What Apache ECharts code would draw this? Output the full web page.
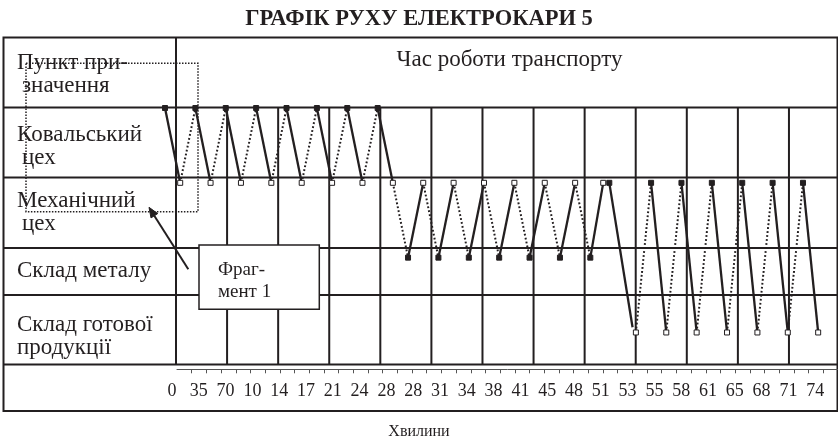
<!DOCTYPE html>
<html>
<head>
<meta charset="utf-8">
<script src="https://cdn.jsdelivr.net/npm/echarts@6/dist/echarts.min.js"></script>
<style>
  html, body { margin: 0; padding: 0; background: #ffffff; }
  #chart { width: 838px; height: 448px; }
</style>
</head>
<body>
<div id="chart"></div>
<script>
// Row names of the route table, one or two text lines each
const rowNames = [
  ['Пункт при-', 'значення'],
  ['Ковальський', 'цех'],
  ['Механічний', 'цех'],
  ['Склад металу'],
  ['Склад готової', 'продукції']
];

// Time labels printed under the table, minutes
const timeLabels = ['0', '35', '70', '10', '14', '17', '21', '24', '28', '28', '31', '34', '38',
  '41', '45', '48', '51', '53', '55', '58', '61', '65', '68', '71', '74'];

// Route points of electric car 5: position on the trip scale and stop level
// (4 – Ковальський цех, 3 – Механічний цех, 2 – Склад металу, 1 – Склад готової продукції)
const stepPos = [0, 1, 2, 3, 4, 5, 6, 7, 8, 9, 10, 11, 12, 13, 14, 15,
  16, 17, 18, 19, 20, 21, 22, 23, 24, 25, 26, 27, 28,
  28.85, 29.25, 30.78,
  31, 32, 33, 34, 35, 36, 37, 38, 39, 40, 41, 42, 43];
const stepLevel = [4, 3, 4, 3, 4, 3, 4, 3, 4, 3, 4, 3, 4, 3, 4, 3,
  2, 3, 2, 3, 2, 3, 2, 3, 2, 3, 2, 3, 2,
  3, 3, 1.07,
  1, 3, 1, 3, 1, 3, 1, 3, 1, 3, 1, 3, 1];
// Point marker: F – loading (filled square), O – unloading (open square), '' – none
const stepMark = ['F', 'O', 'F', 'O', 'F', 'O', 'F', 'O', 'F', 'O', 'F', 'O', 'F', 'O', 'F', 'O',
  'F', 'O', 'F', 'O', 'F', 'O', 'F', 'O', 'F', 'O', 'F', 'O', 'F',
  'O', 'F', '',
  'O', 'F', 'O', 'F', 'O', 'F', 'O', 'F', 'O', 'F', 'O', 'F', 'O'];
// Leg from each point to the next: L – loaded run (solid), E – empty run (dotted), '' – no leg
const legType = ['L', 'E', 'L', 'E', 'L', 'E', 'L', 'E', 'L', 'E', 'L', 'E', 'L', 'E',
  'L', 'E', 'L', 'E', 'L', 'E', 'L', 'E', 'L', 'E', 'L', 'E', 'L', 'E',
  'L', '', 'L', '',
  'E', 'L', 'E', 'L', 'E', 'L', 'E', 'L', 'E', 'L', 'E', 'L'];

const INK = '#231f20';
const SERIF = '"Liberation Serif", "Times New Roman", "DejaVu Serif", serif';

function legs(kind) {
  const out = [];
  legType.forEach((t, i) => {
    if (t === kind) {
      out.push({ coords: [[stepPos[i], stepLevel[i]], [stepPos[i + 1], stepLevel[i + 1]]] });
    }
  });
  return out;
}
function marks(kind) {
  const out = [];
  stepMark.forEach((m, i) => { if (m === kind) out.push([stepPos[i], stepLevel[i]]); });
  return out;
}

// ---- table frame ----
const tblLeft = 3.5, tblRight = 837.5, tblTop = 37.5, tblBottom = 411;
const rowLines = [107.5, 177.5, 248, 295, 364.5];
const colDivider = 176, colStep = 51.08, colCount = 12;

const graphics = [];
const hLine = (x1, y1, x2, y2, w) => ({
  type: 'line', z: 0, silent: true,
  shape: { x1, y1, x2, y2 },
  style: { stroke: INK, lineWidth: w || 2 }
});
graphics.push({
  type: 'rect', z: 0, silent: true,
  shape: { x: tblLeft, y: tblTop, width: tblRight - tblLeft, height: tblBottom - tblTop },
  style: { fill: 'none', stroke: INK, lineWidth: 2 }
});
rowLines.forEach(y => graphics.push(hLine(tblLeft, y, 838, y)));
graphics.push(hLine(colDivider, tblTop, colDivider, rowLines[4]));
for (let k = 1; k <= colCount; k++) {
  const x = colDivider + k * colStep;
  graphics.push(hLine(x, rowLines[0], x, rowLines[4]));
}

// ---- row names ----
const rowBaselines = [[70, 93], [142, 165], [208, 231], [278], [332, 355]];
const rowX = [[17, 22], [17, 22], [17, 22], [17], [17, 17]];
rowNames.forEach((lines, r) => {
  lines.forEach((txt, j) => {
    graphics.push({
      type: 'text', z: 3, silent: true,
      style: {
        text: txt, x: rowX[r][j], y: rowBaselines[r][j] - 7.5,
        font: '23px ' + SERIF, fill: INK, align: 'left', verticalAlign: 'middle'
      }
    });
  });
});

// header of the time part
graphics.push({
  type: 'text', z: 3, silent: true,
  style: { text: 'Час роботи транспорту', x: 509.5, y: 60, font: '23px ' + SERIF,
    fill: INK, align: 'center', verticalAlign: 'middle' }
});
// axis caption
graphics.push({
  type: 'text', z: 3, silent: true,
  style: { text: 'Хвилини', x: 419, y: 432, font: '16px ' + SERIF,
    fill: INK, align: 'center', verticalAlign: 'middle' }
});

// dotted frame of the fragment
graphics.push({
  type: 'polyline', z: 4, silent: true,
  shape: { points: [[26, 63.3], [198, 63.3], [198, 211.7], [26, 211.7], [26, 63.3]] },
  style: { fill: 'none', stroke: INK, lineWidth: 1.5, lineDash: [1.5, 1.5] }
});
// pointer arrow
graphics.push({
  type: 'line', z: 10, silent: true,
  shape: { x1: 188.3, y1: 269.3, x2: 154.3, y2: 215.7 },
  style: { stroke: INK, lineWidth: 2 }
});
graphics.push({
  type: 'polygon', z: 10, silent: true,
  shape: { points: [[149, 207.3], [157.7, 213.6], [151, 217.9]] },
  style: { fill: INK, stroke: INK, lineWidth: 1 }
});
// fragment note box
graphics.push({
  type: 'rect', z: 10, silent: true,
  shape: { x: 199, y: 245, width: 120.3, height: 64.3 },
  style: { fill: '#ffffff', stroke: INK, lineWidth: 1.5 }
});
graphics.push({
  type: 'text', z: 11, silent: true,
  style: { text: 'Фраг-', x: 218, y: 270, font: '19px ' + SERIF, fill: INK,
    align: 'left', verticalAlign: 'middle' }
});
graphics.push({
  type: 'text', z: 11, silent: true,
  style: { text: 'мент 1', x: 218, y: 292, font: '19px ' + SERIF, fill: INK,
    align: 'left', verticalAlign: 'middle' }
});

const tickCats = Array.from({ length: 45 }, () => '');

const option = {
  animation: false,
  backgroundColor: '#ffffff',
  title: {
    text: 'ГРАФІК РУХУ ЕЛЕКТРОКАРИ 5',
    left: 'center', top: 3,
    textStyle: { fontFamily: SERIF, fontWeight: 'bold', fontSize: 22.5, color: INK }
  },
  grid: [
    { left: 165, top: 108, width: 653.17, height: 299.3 },   // route plot
    { left: 177, top: 300, width: 663.75, height: 69.3 },   // tick ruler
    { left: 158.6, top: 300, width: 670, height: 70 }       // time labels
  ],
  xAxis: [
    { gridIndex: 0, type: 'value', min: 0, max: 43, show: false },
    {
      gridIndex: 1, type: 'category', data: tickCats, boundaryGap: true,
      axisLine: { show: true, lineStyle: { color: '#555555', width: 1 } },
      axisTick: { show: true, length: 4, lineStyle: { color: '#555555', width: 1 },
        interval: (i) => i > 0 },
      axisLabel: { show: false }, splitLine: { show: false }
    },
    {
      gridIndex: 2, type: 'category', data: timeLabels, boundaryGap: true,
      axisLine: { show: false }, axisTick: { show: false }, splitLine: { show: false },
      axisLabel: { interval: 0, margin: 12, fontFamily: SERIF, fontSize: 18, color: INK }
    }
  ],
  yAxis: [
    { gridIndex: 0, type: 'value', min: 0, max: 4, show: false },
    { gridIndex: 1, type: 'value', show: false },
    { gridIndex: 2, type: 'value', show: false }
  ],
  graphic: graphics,
  series: [
    {
      name: 'Loaded run', type: 'lines', coordinateSystem: 'cartesian2d',
      xAxisIndex: 0, yAxisIndex: 0, z: 5, silent: true,
      lineStyle: { color: INK, width: 2.3, type: 'solid', opacity: 1 },
      data: legs('L')
    },
    {
      name: 'Empty run', type: 'lines', coordinateSystem: 'cartesian2d',
      xAxisIndex: 0, yAxisIndex: 0, z: 5, silent: true,
      lineStyle: { color: INK, width: 2, type: [1.8, 2.2], opacity: 1 },
      data: legs('E')
    },
    {
      name: 'Loading', type: 'scatter', xAxisIndex: 0, yAxisIndex: 0, z: 6, silent: true,
      symbol: 'rect', symbolSize: 5,
      itemStyle: { color: INK, borderColor: INK, borderWidth: 1, opacity: 1 },
      data: marks('F')
    },
    {
      name: 'Unloading', type: 'scatter', xAxisIndex: 0, yAxisIndex: 0, z: 6, silent: true,
      symbol: 'rect', symbolSize: 5,
      itemStyle: { color: '#ffffff', borderColor: INK, borderWidth: 1, opacity: 1 },
      data: marks('O')
    }
  ]
};

const chart = echarts.init(document.getElementById('chart'), null, { renderer: 'canvas' });
chart.setOption(option);
</script>
</body>
</html>
